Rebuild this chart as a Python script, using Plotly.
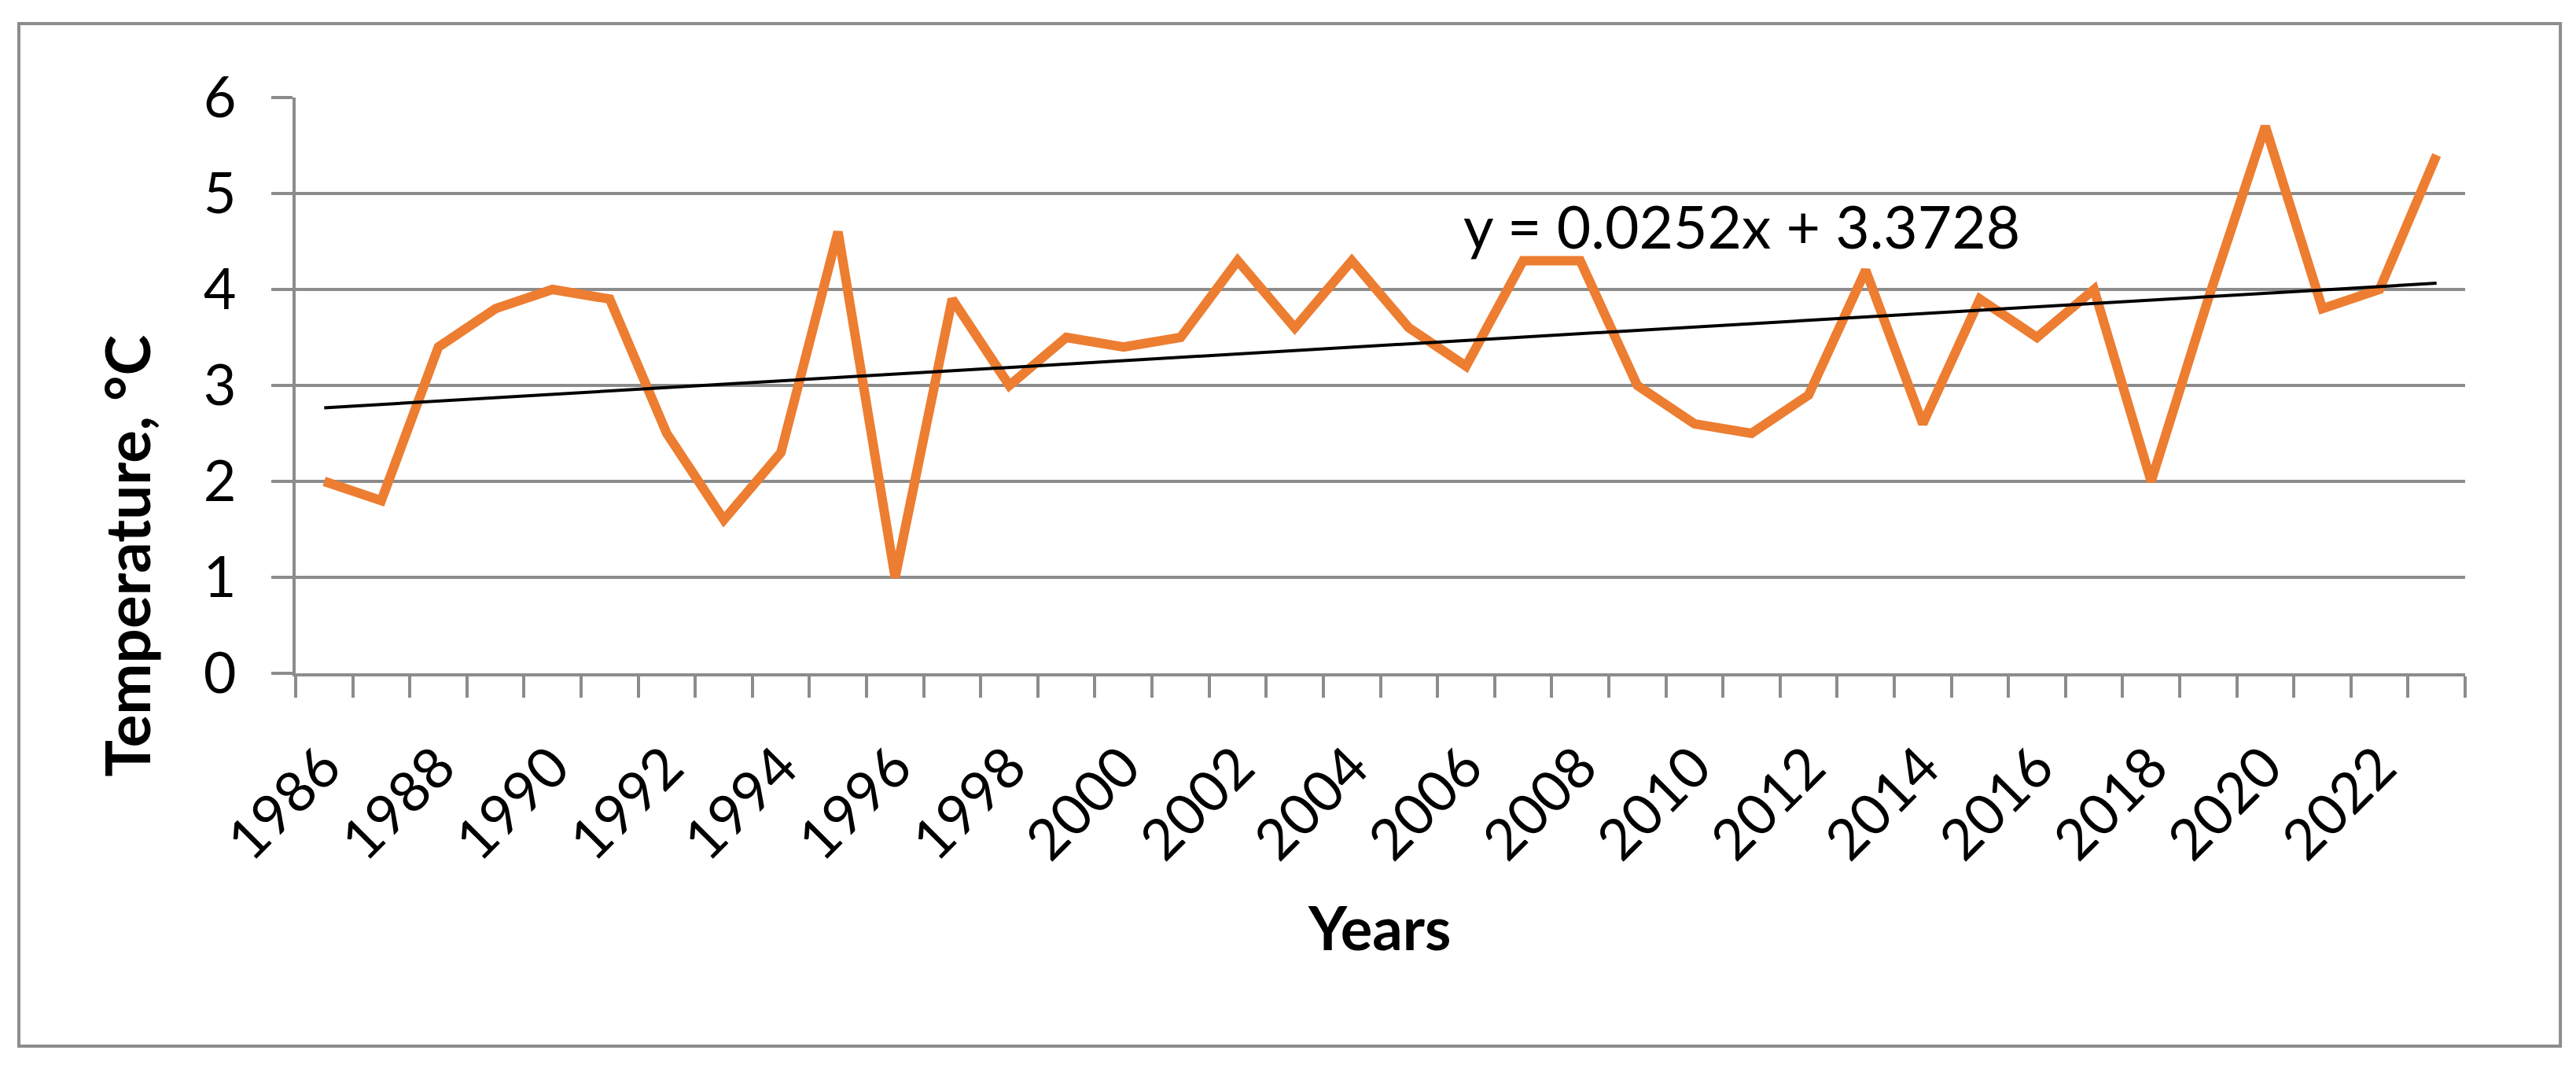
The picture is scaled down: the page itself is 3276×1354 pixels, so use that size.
import numpy as np
import plotly.graph_objects as go

years = list(range(1986, 2024))
temps = [2.0, 1.8, 3.4, 3.8, 4.0, 3.9, 2.5, 1.6, 2.3, 4.6,
         1.0, 3.9, 3.0, 3.5, 3.4, 3.5, 4.3, 3.6, 4.3, 3.6,
         3.2, 4.3, 4.3, 3.0, 2.6, 2.5, 2.9, 4.2, 2.6, 3.9,
         3.5, 4.0, 2.0, 3.9, 5.7, 3.8, 4.0, 5.4]
tick_years = list(range(1986, 2023, 2))
tick_labels = [str(y) for y in tick_years]
y_ticks = [0, 1, 2, 3, 4, 5, 6]
trend_label = "y = 0.0252x + 3.3728"
y_title = "Temperature, °C"
x_title = "Years"

# linear trend fitted to the series
idx = np.arange(1, len(temps) + 1)
slope, intercept = np.polyfit(idx, temps, 1)
trend = slope * idx + intercept

GRAY = "#8c8c8c"
ORANGE = "#ED7D31"
FONT = "Lato"

fig = go.Figure()
fig.add_trace(go.Scatter(x=years, y=temps, mode="lines",
                         line=dict(color=ORANGE, width=12),
                         hoverinfo="skip", showlegend=False))
fig.add_trace(go.Scatter(x=years, y=trend, mode="lines",
                         line=dict(color="black", width=4),
                         hoverinfo="skip", showlegend=False))

boundaries = [years[0] - 0.5 + i for i in range(len(years) + 1)]

fig.update_layout(
    width=3276, height=1354,
    margin=dict(l=368, r=149, t=116, b=506),
    paper_bgcolor="white", plot_bgcolor="white",
    showlegend=False,
    font=dict(family=FONT, color="black"),
    xaxis=dict(
        range=[years[0] - 0.5, years[-1] + 0.5],
        tickmode="array", tickvals=tick_years, ticktext=tick_labels,
        tickangle=-45, ticks="", showgrid=False, zeroline=False,
        showline=True, linecolor=GRAY, linewidth=4,
        tickfont=dict(family=FONT, size=72, color="black"),
        ticklabelstandoff=44,
        minor=dict(tickmode="array", tickvals=boundaries, ticks="outside",
                   ticklen=27, tickwidth=4, tickcolor=GRAY, showgrid=False),
    ),
    yaxis=dict(
        range=[0, 6], tickmode="array", tickvals=y_ticks,
        showgrid=True, gridcolor=GRAY, gridwidth=4, zeroline=False,
        showline=True, linecolor=GRAY, linewidth=4,
        ticks="outside", ticklen=27, tickwidth=4, tickcolor=GRAY,
        tickfont=dict(family=FONT, size=72, color="black"),
        ticklabelstandoff=30,
    ),
)

fig.add_annotation(text=trend_label, x=2010.83, y=4.66, xref="x", yref="y",
                   showarrow=False, xanchor="center", yanchor="middle",
                   font=dict(family=FONT, size=75, color="black"))
fig.add_annotation(text="<b>" + y_title + "</b>", x=-0.078, y=0.2036,
                   xref="paper", yref="paper", textangle=-90, showarrow=False,
                   xanchor="center", yanchor="middle",
                   font=dict(family=FONT, size=78, color="black"))
fig.add_annotation(text="<b>" + x_title + "</b>", x=0.4994, y=-0.44,
                   xref="paper", yref="paper", showarrow=False,
                   xanchor="center", yanchor="middle",
                   font=dict(family=FONT, size=76, color="black"))

# outer chart border
fig.add_shape(type="rect", xref="paper", yref="paper",
              x0=-0.1276, x1=1.0439, y0=-0.6475, y1=1.1284,
              line=dict(color=GRAY, width=4), fillcolor="rgba(0,0,0,0)",
              layer="below")

fig.write_html("out.html")
